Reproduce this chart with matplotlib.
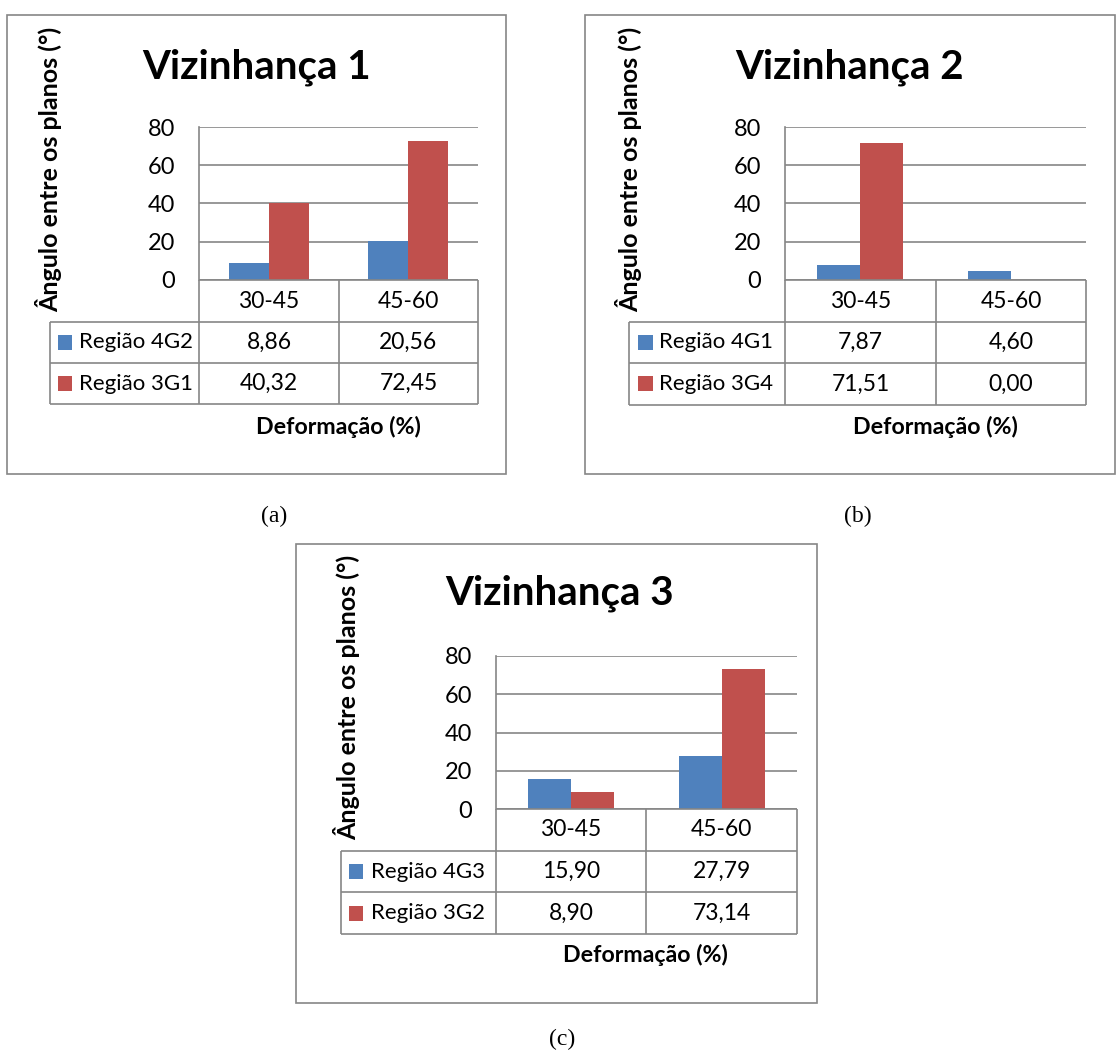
import matplotlib
matplotlib.use("Agg")
import matplotlib.pyplot as plt
from matplotlib.lines import Line2D
from matplotlib.patches import Rectangle

# ---- data -------------------------------------------------------------
categories = ["30-45", "45-60"]

titles = ["Vizinhança 1", "Vizinhança 2", "Vizinhança 3"]
captions = ["(a)", "(b)", "(c)"]

v1_series = ["Região 4G2", "Região 3G1"]
v1_blue = [8.86, 20.56]
v1_red = [40.32, 72.45]

v2_series = ["Região 4G1", "Região 3G4"]
v2_blue = [7.87, 4.60]
v2_red = [71.51, 0.00]

v3_series = ["Região 4G3", "Região 3G2"]
v3_blue = [15.90, 27.79]
v3_red = [8.90, 73.14]

y_ticks = [0, 20, 40, 60, 80]
y_label = "Ângulo entre os planos (°)"
x_label = "Deformação (%)"

# ---- style ------------------------------------------------------------
W, H = 1119, 1050
DPI = 100
BLUE = "#4F81BD"
RED = "#C0504D"
GRID = "#868686"
FONT = "Lato"
plt.rcParams["font.family"] = [FONT, "DejaVu Sans"]

fig = plt.figure(figsize=(W / DPI, H / DPI), dpi=DPI)
fig.patch.set_facecolor("white")


def fx(px):
    return px / W


def fy(py):
    return 1 - py / H


def hline(x0, x1, y, color=GRID, lw=1.2):
    fig.add_artist(Line2D([fx(x0), fx(x1)], [fy(y), fy(y)], color=color, lw=lw,
                          transform=fig.transFigure, solid_capstyle="butt"))


def vline(x, y0, y1, color=GRID, lw=1.2):
    fig.add_artist(Line2D([fx(x), fx(x)], [fy(y0), fy(y1)], color=color, lw=lw,
                          transform=fig.transFigure, solid_capstyle="butt"))


def fmt(v):
    return f"{v:.2f}".replace(".", ",")


def panel(lay, title, caption, series, blue, red):
    # outer frame of the chart
    bx0, by0, bx1, by1 = lay["border"]
    fig.add_artist(Rectangle((fx(bx0), fy(by1)), fx(bx1 - bx0), (by1 - by0) / H,
                             transform=fig.transFigure, fill=False,
                             edgecolor=GRID, lw=1.2))

    px0, px1, ptop, pbase = lay["plot"]
    ax = fig.add_axes([fx(px0), fy(pbase), fx(px1 - px0), (pbase - ptop) / H])
    n = len(categories)
    w = 1 / 3.5
    xs = list(range(n))
    ax.bar([x - w / 2 for x in xs], blue, width=w, color=BLUE, zorder=3)
    ax.bar([x + w / 2 for x in xs], red, width=w, color=RED, zorder=3)
    ax.set_xlim(-0.5, n - 0.5)
    ax.set_ylim(y_ticks[0], y_ticks[-1])
    ax.set_yticks(y_ticks)
    ax.set_xticks([])
    ax.tick_params(axis="y", length=0, pad=17, labelsize=17)
    for s in ["top", "right", "bottom"]:
        ax.spines[s].set_visible(False)
    ax.spines["left"].set_color(GRID)
    ax.spines["left"].set_linewidth(1.2)
    ax.yaxis.grid(True, color=GRID, lw=1.2, zorder=0)
    ax.set_axisbelow(True)
    ax.patch.set_alpha(0)

    # data table under the plot
    tl = lay["table_left"]
    cd = lay["col_div"]
    r0, r1, r2, r3 = lay["rows"]
    hline(px0, px1, r0)
    for r in (r1, r2, r3):
        hline(tl, px1, r)
    for x in (px0, cd, px1):
        vline(x, r0, r3)
    vline(tl, r1, r3)

    col_centers = [(px0 + cd) / 2, (cd + px1) / 2]
    for c, lab in zip(col_centers, categories):
        fig.text(fx(c), fy((r0 + r1) / 2), lab, ha="center", va="center",
                 fontsize=16.5)
    sq0, sq1, tx = lay["legend"]
    for (ra, rb), name, vals, col in zip([(r1, r2), (r2, r3)], series,
                                         [blue, red], [BLUE, RED]):
        yc = (ra + rb) / 2
        fig.add_artist(Rectangle((fx(sq0), fy(yc + 7.5)), fx(sq1 - sq0), 15 / H,
                                 transform=fig.transFigure, color=col, lw=0))
        fig.text(fx(tx), fy(yc), name, ha="left", va="center", fontsize=16)
        for c, v in zip(col_centers, vals):
            fig.text(fx(c), fy(yc), fmt(v), ha="center", va="center",
                     fontsize=16.5)

    tx_, ty_ = lay["title"]
    fig.text(fx(tx_), fy(ty_), title, ha="center", va="center", fontsize=29,
             fontweight="bold")
    yx, yy = lay["ylabel"]
    fig.text(fx(yx), fy(yy), y_label, ha="center", va="center", rotation=90,
             fontsize=18, fontweight="bold")
    xx, xy = lay["xlabel"]
    fig.text(fx(xx), fy(xy), x_label, ha="center", va="center",
             fontsize=16.7, fontweight="bold")
    cx, cy = lay["caption"]
    fig.text(fx(cx), fy(cy), caption, ha="center", va="center", fontsize=17,
             family="Liberation Serif")


layouts = [
    dict(border=(7, 15, 506, 474), plot=(199, 478, 127, 280), table_left=50,
         col_div=339, rows=(280, 322, 363, 404), legend=(58, 72, 79),
         title=(257, 67), ylabel=(49, 169), xlabel=(338, 427),
         caption=(274, 516)),
    dict(border=(585, 15, 1115, 474), plot=(785, 1086, 127, 280),
         table_left=629, col_div=936, rows=(280, 322, 363, 405),
         legend=(638, 653, 659), title=(850, 67), ylabel=(629, 169),
         xlabel=(935, 427), caption=(858, 516)),
    dict(border=(296, 544, 817, 1003), plot=(496, 797, 656, 809),
         table_left=341, col_div=646, rows=(809, 851, 892, 934),
         legend=(349, 363, 371), title=(560, 593), ylabel=(347, 697),
         xlabel=(645, 955), caption=(562, 1039)),
]

panel(layouts[0], titles[0], captions[0], v1_series, v1_blue, v1_red)
panel(layouts[1], titles[1], captions[1], v2_series, v2_blue, v2_red)
panel(layouts[2], titles[2], captions[2], v3_series, v3_blue, v3_red)

fig.savefig("out.png", dpi=DPI, facecolor="white")
